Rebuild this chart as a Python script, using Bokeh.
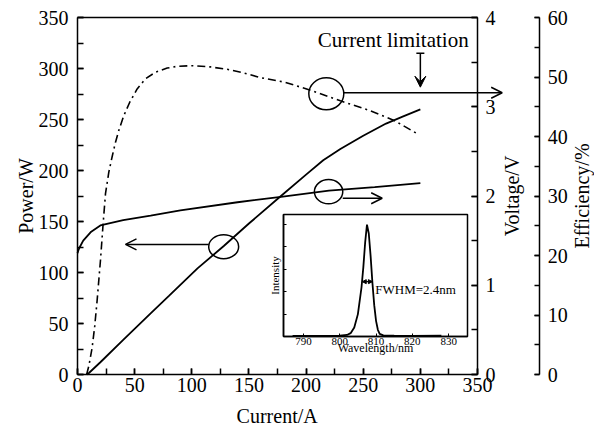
import math
from bokeh.plotting import figure
from bokeh.models import (Range1d, LinearAxis, SingleIntervalTicker, FixedTicker,
                          Arrow, OpenHead, VeeHead, TeeHead, NormalHead, Label, GridBox,
                          CustomJSTickFormatter, CustomLabelingPolicy)
from bokeh.embed import file_html
from bokeh.resources import INLINE

FONT = "Liberation Serif"

# ---------------- data ----------------
power_current = [8, 10, 20, 40, 64, 80, 105, 128, 150, 178, 200, 215, 230, 250, 270, 285, 300]
power_w = [0, 1.5, 12, 34, 60, 77, 104, 126, 148, 175, 196, 210, 221, 234, 246, 253, 260]

volt_current = [0, 1, 2.5, 5, 8.5, 12, 20, 40, 64, 90, 140, 178, 220, 260, 300]
voltage_v = [1.36, 1.40, 1.44, 1.50, 1.55, 1.60, 1.67, 1.73, 1.78, 1.84, 1.93, 1.99, 2.06, 2.10, 2.145]

eff_current = [8, 10, 12.8, 15, 17.2, 20.1, 22.4, 24.5, 27.4, 30.3, 33.2, 36.1, 40.5, 45.8, 52.2,
               59.5, 68.2, 78.5, 87.2, 100, 116, 131, 145, 160, 182, 205, 230, 255, 277, 297]
efficiency_pct = [0, 1.5, 4.5, 8, 12.5, 19.2, 25.3, 30.4, 34.0, 36.6, 39.0, 41.0, 43.5, 45.8, 48.0,
                  49.7, 50.8, 51.5, 51.8, 51.9, 51.7, 51.3, 50.7, 49.9, 49.1, 47.7, 46.0, 44.4, 42.7, 40.5]

wavelength_nm = [787, 795, 800, 802, 803, 804, 805, 806, 806.5, 807, 807.5, 808, 808.5, 809,
                 809.5, 810, 810.5, 811, 812, 815, 820, 828]
intensity = [0.03, 0.03, 0.04, 0.07, 0.15, 0.4, 1.0, 2.2, 3.1, 4.2, 5.0, 4.6, 3.6, 2.4,
             1.4, 0.7, 0.3, 0.12, 0.05, 0.04, 0.03, 0.04]

current_max = 350     # current axis 0..350
power_max = 350       # power axis 0..350
voltage_max = 4
efficiency_max = 60

# annotations (ellipses and arrows, in current / power units)
ell_x = [127.9, 219.7, 217.7]
ell_y = [125.3, 179.2, 275.2]
ell_w = [26.2, 24.8, 30.6]
ell_h = [23.5, 23.8, 31.4]
arr_x0 = [114.9, 232.1, 233.0]
arr_x1 = [42.0, 266.6, 371.6]
arr_y = [127.5, 172.8, 276.2]

limit_current = 300
limit_y0, limit_y1 = 315, 281.7
fwhm_x0, fwhm_x1, fwhm_y = 806.2, 809.0, 2.45

eff_axis_at = 404.5                      # current-units position of the efficiency axis
volt_title_x, eff_title_x, side_title_y = 380.4, 441.6, 175
power_title_x = -45.5
x_title_x, x_title_y = 174.7, -41

# ---------------- layout constants ----------------
W, H = 594, 426
FL, FR, FT, FB = 77, 477, 17, 374          # plotted box edges (px)
sx = current_max / (FR - FL)


def y_span(vmax):
    s = vmax / (FB - FT)
    return Range1d(-(H - FB) * s, FB * s)   # frame covers the whole canvas height


# ---------------- main figure ----------------
p = figure(width=W, height=H, x_range=Range1d(-FL * sx, (W - FL) * sx), y_range=y_span(power_max),
           output_backend="svg", toolbar_location=None,
           min_border_left=0, min_border_right=0, min_border_top=0, min_border_bottom=0,
           background_fill_color="white", border_fill_color="white",
           outline_line_color=None)
p.grid.visible = False
p.extra_y_ranges = {"volt": y_span(voltage_max), "eff": y_span(efficiency_max)}


def style_axis(ax, standoff, tick=6):
    ax.major_label_text_font = FONT
    ax.major_label_text_font_size = "20px"
    ax.major_label_text_color = "black"
    ax.major_label_standoff = standoff
    ax.axis_line_color = "black"
    ax.axis_line_width = 1.5
    ax.major_tick_line_color = "black"
    ax.major_tick_line_width = 1.5
    ax.minor_tick_line_color = "black"
    ax.minor_tick_line_width = 1.5
    ax.major_tick_in = tick
    ax.major_tick_out = 0
    ax.minor_tick_in = tick
    ax.minor_tick_out = 0


xax = p.xaxis[0]
xax.ticker = SingleIntervalTicker(interval=50, num_minor_ticks=2)
xax.bounds = (0, current_max)
xax.fixed_location = 0
style_axis(xax, 3)

yax = p.yaxis[0]
yax.ticker = SingleIntervalTicker(interval=50, num_minor_ticks=2)
yax.bounds = (0, power_max)
yax.fixed_location = 0
style_axis(yax, 9)

# top edge of the box
top = LinearAxis(ticker=FixedTicker(ticks=[]), bounds=(0, current_max), fixed_location=power_max,
                 axis_line_color="black", axis_line_width=1.5,
                 major_tick_in=0, major_tick_out=0, minor_tick_in=0, minor_tick_out=0)
p.add_layout(top, "above")

# right edge of the box = voltage axis
vax = LinearAxis(y_range_name="volt", fixed_location=current_max, bounds=(0, voltage_max),
                 ticker=SingleIntervalTicker(interval=1, num_minor_ticks=2))
style_axis(vax, 8)
p.add_layout(vax, "right")

eax = LinearAxis(y_range_name="eff", fixed_location=eff_axis_at, bounds=(0, efficiency_max),
                 ticker=SingleIntervalTicker(interval=10, num_minor_ticks=2))
style_axis(eax, 8, tick=5)
p.add_layout(eax, "right")

for tx, ty, txt, ang in [(power_title_x, side_title_y, "Power/W", math.pi / 2),
                         (volt_title_x, side_title_y, "Voltage/V", math.pi / 2),
                         (eff_title_x, side_title_y, "Efficiency/%", math.pi / 2),
                         (x_title_x, x_title_y, "Current/A", 0)]:
    p.add_layout(Label(x=tx, y=ty, text=txt, angle=ang, text_align="center",
                       text_baseline="middle", text_font=FONT, text_font_size="20px",
                       text_color="black"))

# curves
p.line(power_current, power_w, line_color="black", line_width=1.8)
p.line(volt_current, voltage_v, y_range_name="volt", line_color="black", line_width=1.8)
p.line(eff_current, efficiency_pct, y_range_name="eff", line_color="black", line_width=1.6,
       line_dash="8 4 2 4")

# ellipses and arrows
p.ellipse(x=ell_x, y=ell_y, width=ell_w, height=ell_h, fill_color=None,
          line_color="black", line_width=1.5)
for x0, x1, yy in zip(arr_x0, arr_x1, arr_y):
    p.add_layout(Arrow(x_start=x0, y_start=yy, x_end=x1, y_end=yy, line_width=1.5,
                       line_color="black",
                       end=OpenHead(size=11, line_width=1.5, line_color="black")))

p.add_layout(Arrow(x_start=limit_current, y_start=limit_y0, x_end=limit_current, y_end=limit_y1,
                   line_width=1.5, line_color="black",
                   start=TeeHead(size=8, line_width=1.5, line_color="black"),
                   end=VeeHead(size=11, fill_color="black", line_color="black")))
p.add_layout(Label(x=276.2, y=327.5, text="Current limitation", text_align="center",
                   text_baseline="middle", text_font=FONT, text_font_size="21px",
                   text_color="black"))

# ---------------- inset ----------------
IL, IR, IT, IB = 22, 2, 2, 22
ins_frame_w, ins_frame_h = 184, 122
ins = figure(width=IL + ins_frame_w + IR, height=IT + ins_frame_h + IB,
             x_range=Range1d(784.5, 835.2), y_range=Range1d(0, 5.45),
             output_backend="svg", toolbar_location=None,
             min_border_left=IL, min_border_right=IR, min_border_top=IT, min_border_bottom=IB,
             border_fill_color=None, background_fill_color="white",
             outline_line_color="black", outline_line_width=1.5)
ins.grid.visible = False

ix = ins.xaxis[0]
ix.ticker = SingleIntervalTicker(interval=10, num_minor_ticks=0)
ix.axis_label = "Wavelength/nm"
ix.axis_label_text_font = FONT
ix.axis_label_text_font_size = "12px"
ix.axis_label_text_font_style = "normal"
ix.axis_label_text_color = "black"
ix.axis_label_standoff = -7
ix.major_label_text_font = FONT
ix.major_label_text_font_size = "11px"
ix.major_label_text_color = "black"
ix.major_label_standoff = 1
ix.major_tick_in = 3
ix.major_tick_out = 0
ix.axis_line_width = 1.5

iy = ins.yaxis[0]
iy.ticker = SingleIntervalTicker(interval=1, num_minor_ticks=0)
iy.axis_label = "Intensity"
iy.axis_label_text_font = FONT
iy.axis_label_text_font_size = "11px"
iy.axis_label_text_font_style = "normal"
iy.axis_label_text_color = "black"
iy.axis_label_standoff = 3
iy.formatter = CustomJSTickFormatter(code="return ''")
iy.major_label_policy = CustomLabelingPolicy(
    code="const all = [...indices]; for (const i of all) indices.unset(i); return indices")
iy.major_label_standoff = 0
iy.major_tick_in = 3
iy.major_tick_out = 0
iy.axis_line_width = 1.5

ins.line(wavelength_nm, intensity, line_color="black", line_width=1.8)
ins.add_layout(Arrow(x_start=fwhm_x0, y_start=fwhm_y, x_end=fwhm_x1, y_end=fwhm_y,
                     line_width=1.2, line_color="black",
                     start=NormalHead(size=4, fill_color="black", line_color="black"),
                     end=NormalHead(size=4, fill_color="black", line_color="black")))
ins.add_layout(Label(x=809.8, y=2.1, text="FWHM=2.4nm", text_baseline="middle",
                     text_font=FONT, text_font_size="13px", text_color="black"))

# inset placement: frame at x 283..467, y 214..336 of the canvas
ins_left, ins_top = 261, 212
cols = [f"{ins_left}px", f"{IL + ins_frame_w + IR}px", f"{W - ins_left - (IL + ins_frame_w + IR)}px"]
rows = [f"{ins_top}px", f"{IT + ins_frame_h + IB}px", f"{H - ins_top - (IT + ins_frame_h + IB)}px"]

layout = GridBox(children=[(p, 0, 0, 3, 3), (ins, 1, 1, 1, 1)], rows=rows, cols=cols)

with open("out.html", "w") as f:
    f.write(file_html(layout, INLINE))
